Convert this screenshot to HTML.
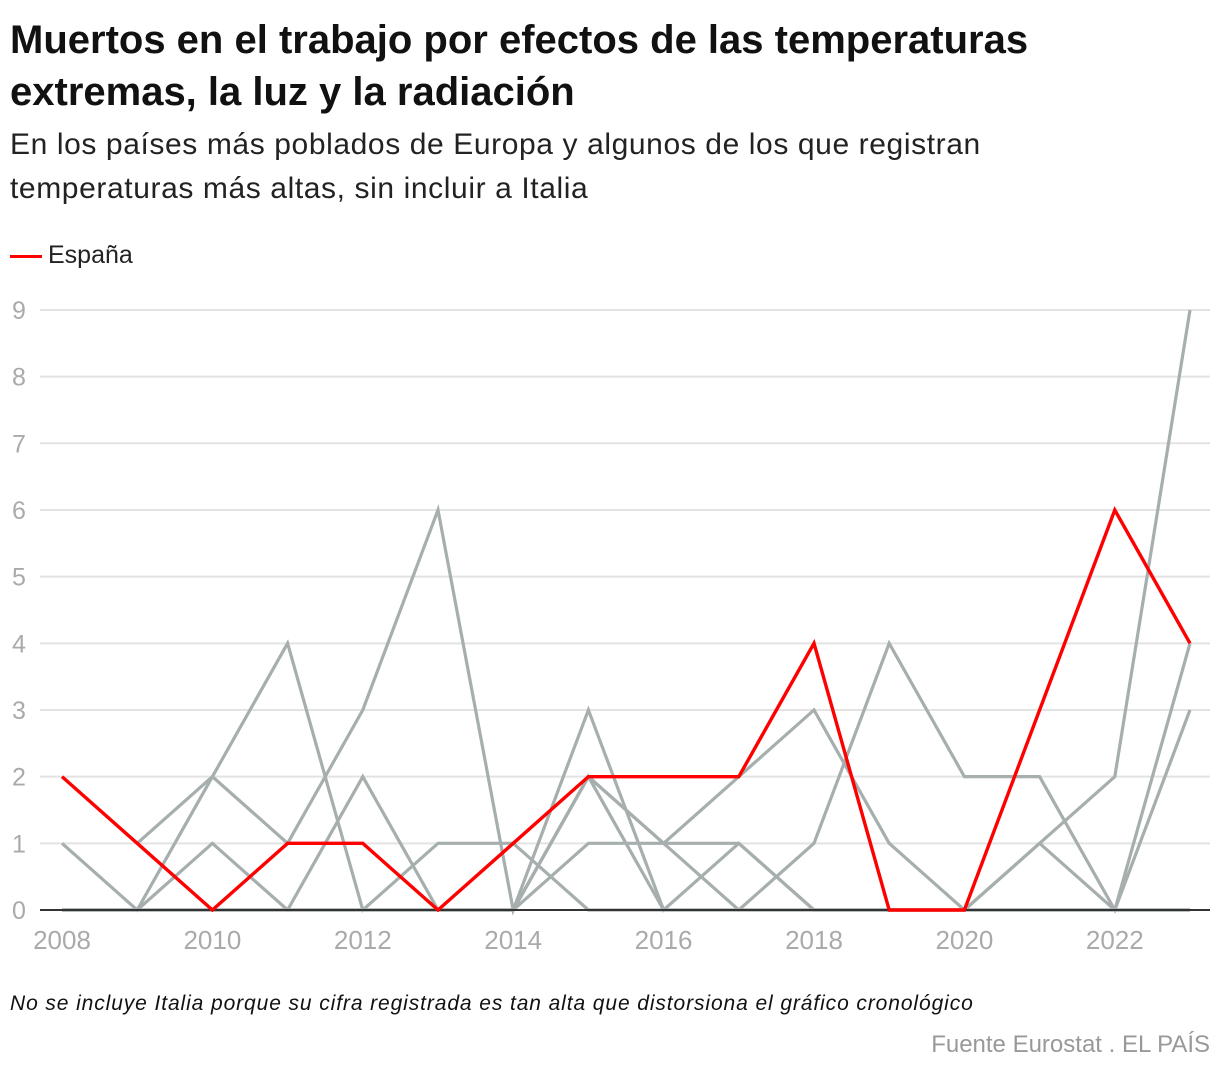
<!DOCTYPE html>
<html><head><meta charset="utf-8">
<style>
body{margin:0;background:#fff;width:1220px;height:1076px;overflow:hidden;font-family:"Liberation Sans",sans-serif;}
.t{position:absolute;left:10px;margin:0;white-space:nowrap;}
</style></head><body>
<h1 class="t" style="top:14px;font-size:40px;line-height:52px;font-weight:bold;color:#111;">Muertos en el trabajo por efectos de las temperaturas<br>extremas, la luz y la radiación</h1>
<p class="t" style="top:123px;font-size:30px;line-height:44px;color:#222;letter-spacing:0.6px;">En los países más poblados de Europa y algunos de los que registran<br>temperaturas más altas, sin incluir a Italia</p>
<div style="position:absolute;left:10px;top:241px;font-size:25px;color:#222;"><span style="display:inline-block;width:32px;height:3px;background:#f00;vertical-align:middle;margin-right:6px;"></span>España</div>
<svg id="chart" width="1220" height="1076" style="position:absolute;left:0;top:0;"></svg>
<p class="t" style="top:992px;font-size:21px;font-style:italic;color:#111;letter-spacing:0.9px;">No se incluye Italia porque su cifra registrada es tan alta que distorsiona el gráfico cronológico</p>
<p style="position:absolute;right:10px;top:1031px;margin:0;font-size:24px;color:#999;white-space:nowrap;">Fuente Eurostat . EL PAÍS</p>
<script>
const years=[2008,2009,2010,2011,2012,2013,2014,2015,2016,2017,2018,2019,2020,2021,2022,2023];
const spain=[2,1,0,1,1,0,1,2,2,2,4,0,0,3,6,4];
const gray1=[1,0,2,4,0,1,1,0,0,0,0,0,0,1,0,4];
const gray2=[null,1,2,1,3,6,0,3,0,1,0,0,0,0,0,0];
const gray3=[0,0,1,0,2,0,0,2,1,0,1,4,2,2,0,3];
const gray4=[0,0,0,0,0,0,0,2,1,2,3,1,0,1,2,9];
const gray5=[0,0,0,0,0,0,0,1,1,1,0,0,0,0,0,0];
const gray6=[0,0,0,0,0,0,0,2,0,0,0,0,0,0,0,0];
const yTicks=[0,1,2,3,4,5,6,7,8,9];
const xTicks=[2008,2010,2012,2014,2016,2018,2020,2022];
const svg=document.getElementById('chart');
const NS='http://www.w3.org/2000/svg';
const X=y=>62+(y-2008)*(1128/15);
const Y=v=>910-v*66.67;
function mk(tag,attrs){const e=document.createElementNS(NS,tag);for(const k in attrs)e.setAttribute(k,attrs[k]);svg.appendChild(e);return e;}
function pts(s){return s.map((v,j)=>v===null?null:X(years[j])+','+Y(v)).filter(p=>p).join(' ');}
yTicks.forEach(t=>{
  if(t>0){const g=mk('line',{x1:40,x2:1210,y1:Y(t),y2:Y(t),stroke:'#e3e3e3','stroke-width':2});
  
  }
  const l=mk('text',{x:12,y:Y(t)+9,'font-size':25,fill:'#aaa','font-family':'Liberation Sans, sans-serif'});
  l.textContent=t;
  
  
});
xTicks.forEach(t=>{
  const l=mk('text',{x:X(t),y:949,'font-size':26,fill:'#aaa','text-anchor':'middle','font-family':'Liberation Sans, sans-serif'});
  l.textContent=t;
  
  
});
const grays=[gray1,gray2,gray3,gray4,gray5,gray6];
grays.forEach((s,i)=>{
  const p=mk('polyline',{points:pts(s),fill:'none',stroke:'#a6aeae','stroke-width':3.2});
  
  
});
const base=mk('line',{x1:40,x2:1210,y1:910,y2:910,stroke:'#333','stroke-width':2});


const sp=mk('polyline',{points:pts(spain),fill:'none',stroke:'#f00','stroke-width':3.4});


</script>
</body></html>
